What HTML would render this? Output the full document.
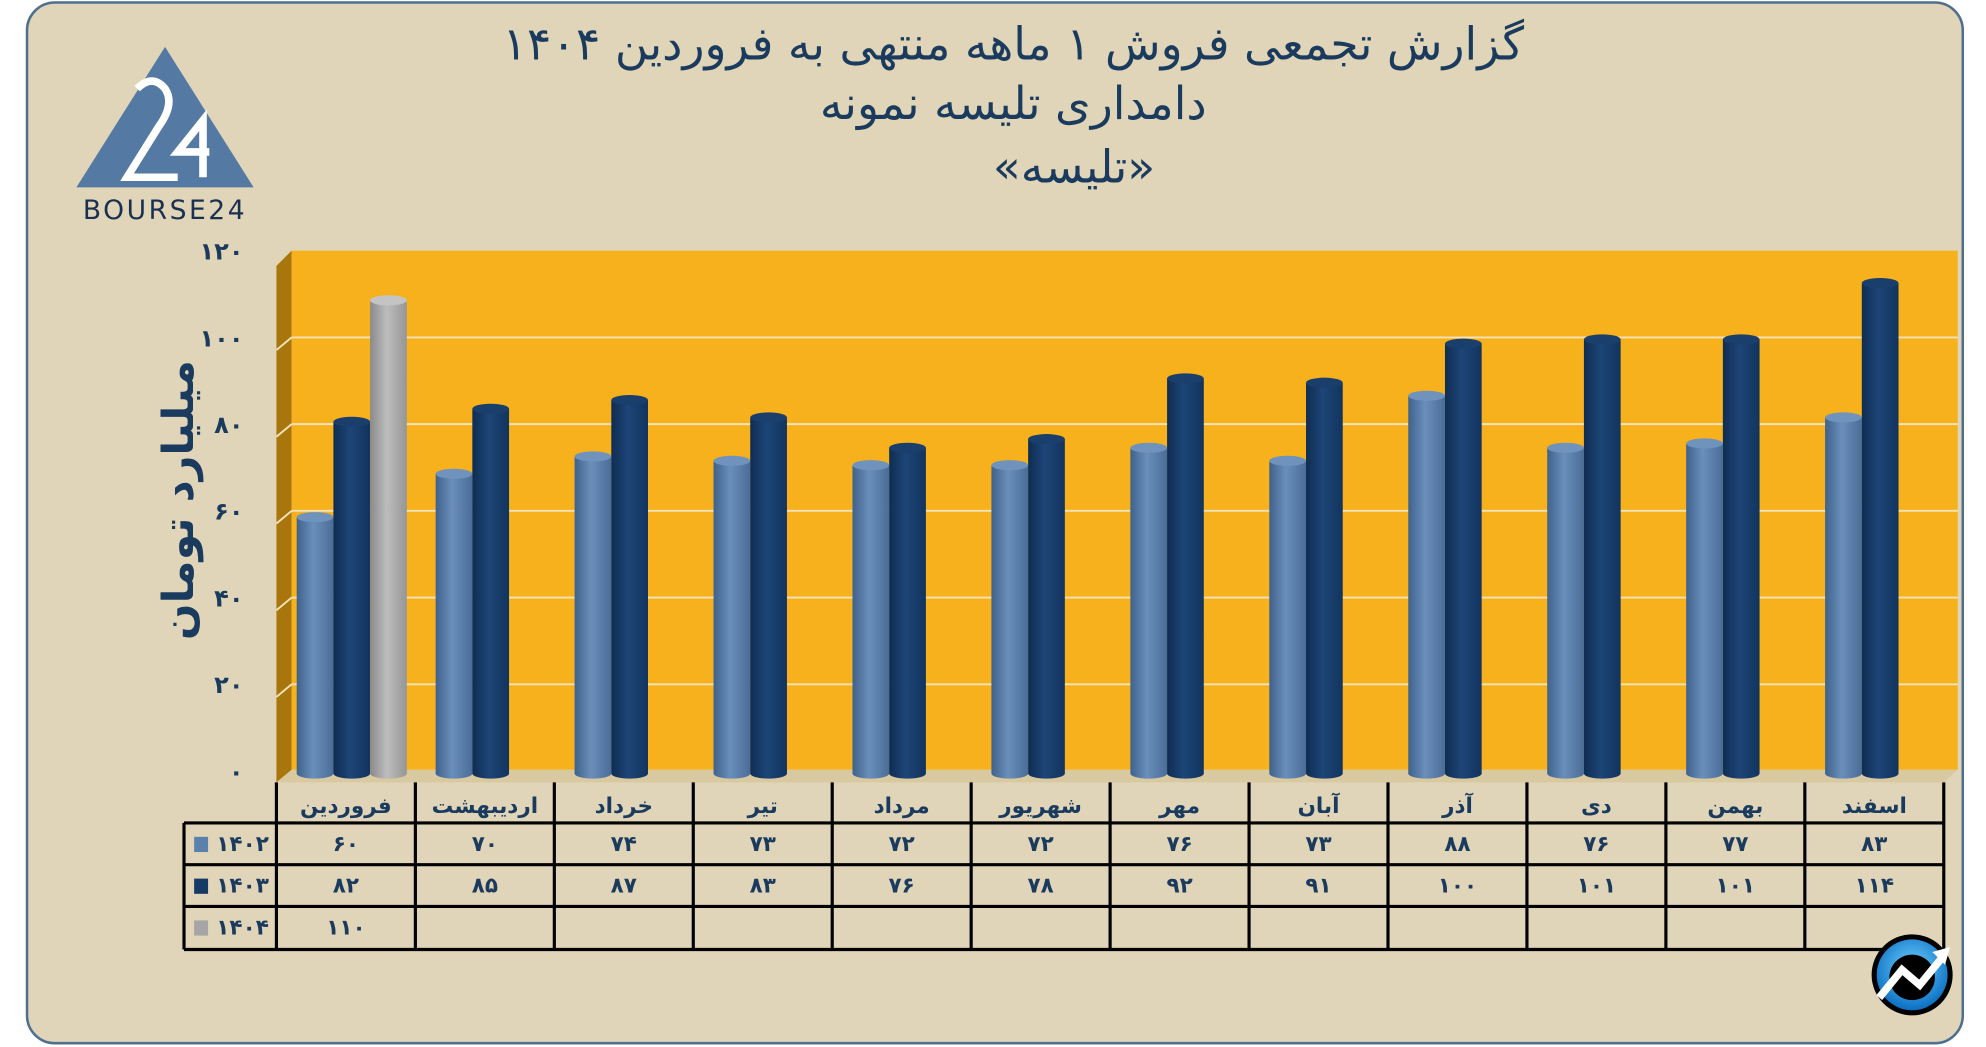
<!DOCTYPE html>
<html><head><meta charset="utf-8">
<style>
html,body{margin:0;padding:0;background:#fff;}
svg{display:block;}
text{font-family:"DejaVu Sans","Liberation Sans",sans-serif;}
</style></head>
<body>
<svg id="chart" width="1986" height="1047" viewBox="0 0 1568 827" xmlns="http://www.w3.org/2000/svg">
<defs>
<linearGradient id="gLight" x1="0" x2="1" y1="0" y2="0"><stop offset="0" stop-color="#3f628c"/><stop offset="0.45" stop-color="#6a8fba"/><stop offset="1" stop-color="#4a6d98"/></linearGradient>
<linearGradient id="gDark" x1="0" x2="1" y1="0" y2="0"><stop offset="0" stop-color="#0f2d52"/><stop offset="0.45" stop-color="#1d4577"/><stop offset="1" stop-color="#12345e"/></linearGradient>
<linearGradient id="gGray" x1="0" x2="1" y1="0" y2="0"><stop offset="0" stop-color="#8a8a8a"/><stop offset="0.45" stop-color="#bdbdbd"/><stop offset="1" stop-color="#969696"/></linearGradient>
<radialGradient id="gIcon" cx="0.5" cy="0.4" r="0.6"><stop offset="0" stop-color="#6fd0ff"/><stop offset="1" stop-color="#0a6fc2"/></radialGradient>
</defs>
<rect x="21" y="2" width="1529" height="822" rx="22" fill="#e0d5b8" stroke="#4f6f8f" stroke-width="2"/>
<g>
<polygon points="130,37 60,148 200,148" fill="#5479a3"/>
<path d="M108,70 Q120,58 130,70 Q138,82 125,100 L100,140 L140,140" fill="none" stroke="#fff" stroke-width="6"/>
<path d="M160,140 L160,95 L140,120 L165,120" fill="none" stroke="#fff" stroke-width="6"/>
<text x="130" y="173" text-anchor="middle" font-size="21" fill="#1b3050" letter-spacing="2">BOURSE24</text>
</g>
<g fill="#1b3b5e" font-size="36" text-anchor="middle" direction="rtl">
<text x="800" y="47">گزارش تجمعی فروش ۱ ماهه منتهی به فروردین ۱۴۰۴</text>
<text x="800" y="94">دامداری تلیسه نمونه</text>
<text x="848" y="144">«تلیسه»</text>
</g>
<polygon points="218,210 230,198 230,608 218,618" fill="#a8760d"/>
<rect x="230" y="198" width="1316" height="410" fill="#f7b11c"/>
<polygon points="218,618 230,608 1546,608 1535,618" fill="#d9c9a0"/>
<g id="grid"></g>
<g id="yticks"></g>
<text transform="translate(152,395) rotate(-90)" text-anchor="middle" font-size="34" font-weight="bold" fill="#1b3b5e" direction="rtl">میلیارد تومان</text>
<g id="bars"></g>
<g id="table" stroke="#000" stroke-width="2.5"></g>
<g id="tabletext"></g>
<g>
<circle cx="1510" cy="770" r="32" fill="#000"/>
<circle cx="1510" cy="770" r="28" fill="url(#gIcon)"/>
<circle cx="1510" cy="772" r="18" fill="#000"/>
<polyline points="1484,788 1502,766 1516,778 1534,756" fill="none" stroke="#fff" stroke-width="6"/>
<polygon points="1540,748 1526,752 1536,762" fill="#fff"/>
</g>
</svg>
<script>
const categories=["فروردین","اردیبهشت","خرداد","تیر","مرداد","شهریور","مهر","آبان","آذر","دی","بهمن","اسفند"];
const series1402=[60,70,74,73,72,72,76,73,88,76,77,83];
const series1403=[82,85,87,83,76,78,92,91,100,101,101,114];
const series1404=[110,null,null,null,null,null,null,null,null,null,null,null];
const seriesNames=["1402","1403","1404"];
const yTicks=[0,20,40,60,80,100,120];
const NS="http://www.w3.org/2000/svg";
const fa=s=>String(s).replace(/\d/g,d=>"۰۱۲۳۴۵۶۷۸۹"[d]);
function y(v){return 609-v*(411/120);}
const colX0=218,colW=(1535-218)/12;
function colX(i){return colX0+i*colW;}
function mk(tag,attrs,parent){const e=document.createElementNS(NS,tag);for(const k in attrs)e.setAttribute(k,attrs[k]);parent.appendChild(e);return e;}
const grid=document.getElementById('grid'),yt=document.getElementById('yticks');
yTicks.forEach(v=>{
  if(v>0&&v<120){const l=mk('line',{x1:230,x2:1546,y1:y(v),y2:y(v),stroke:'#f4e3b8','stroke-width':1.5},grid);
  
  
  const s=mk('line',{x1:218,x2:230,y1:y(v)+10,y2:y(v),stroke:'#f4e3b8','stroke-width':1.5},grid);
  
  }
  const t=mk('text',{x:192,y:y(v)+7,'text-anchor':'end','font-size':19,'font-weight':'bold',fill:'#1b3b5e'},yt);
  t.textContent=fa(v);
  
  
});
const bars=document.getElementById('bars');
const all=[series1402,series1403,series1404],fills=['url(#gLight)','url(#gDark)','url(#gGray)'],tops=['#6f93bd','#1a3f6c','#c4c4c4'];
categories.forEach((c,i)=>{
  all.forEach((s,k)=>{
    const v=s[i]; if(v==null) return;
    const x=colX(i)+16+k*29,w=29,yt2=y(v)+5,yb=611;
    const g=mk('g',{},bars);
    
    
    mk('rect',{x:x,y:yt2,width:w,height:yb-yt2,fill:fills[k]},g);
    mk('ellipse',{cx:x+w/2,cy:yb,rx:w/2,ry:4,fill:fills[k]},g);
    mk('ellipse',{cx:x+w/2,cy:yt2,rx:w/2,ry:4,fill:tops[k]},g);
  });
});
const tb=document.getElementById('table'),tt=document.getElementById('tabletext');
[650,683,716,750].forEach(yy=>{const l=mk('line',{x1:145,x2:1535,y1:yy,y2:yy},tb);

});
mk('line',{x1:145,x2:145,y1:650,y2:750},tb);
for(let i=0;i<=12;i++){const l=mk('line',{x1:colX(i),x2:colX(i),y1:618,y2:750},tb);

}
const rowsY=[650,683,716],legCols=['#5b80ab','#163a66','#a5a5a5'];
categories.forEach((c,i)=>{
  const t=mk('text',{x:colX(i)+colW/2,y:642,'text-anchor':'middle','font-size':17,'font-weight':'bold',fill:'#1b3b5e',direction:'rtl'},tt);
  t.textContent=c;
  
  
});
all.forEach((s,k)=>{
  const r=mk('rect',{x:153,y:rowsY[k]+11,width:11,height:12,fill:legCols[k]},tt);
  
  
  const lt=mk('text',{x:212,y:rowsY[k]+22,'text-anchor':'end','font-size':17,'font-weight':'bold',fill:'#1b3b5e'},tt);
  lt.textContent=fa(seriesNames[k]);
  
  
  s.forEach((v,i)=>{ if(v==null) return;
    const t=mk('text',{x:colX(i)+colW/2,y:rowsY[k]+22,'text-anchor':'middle','font-size':17,'font-weight':'bold',fill:'#1b3b5e'},tt);
    t.textContent=fa(v);
    
    
  });
});
</script>
</body></html>
